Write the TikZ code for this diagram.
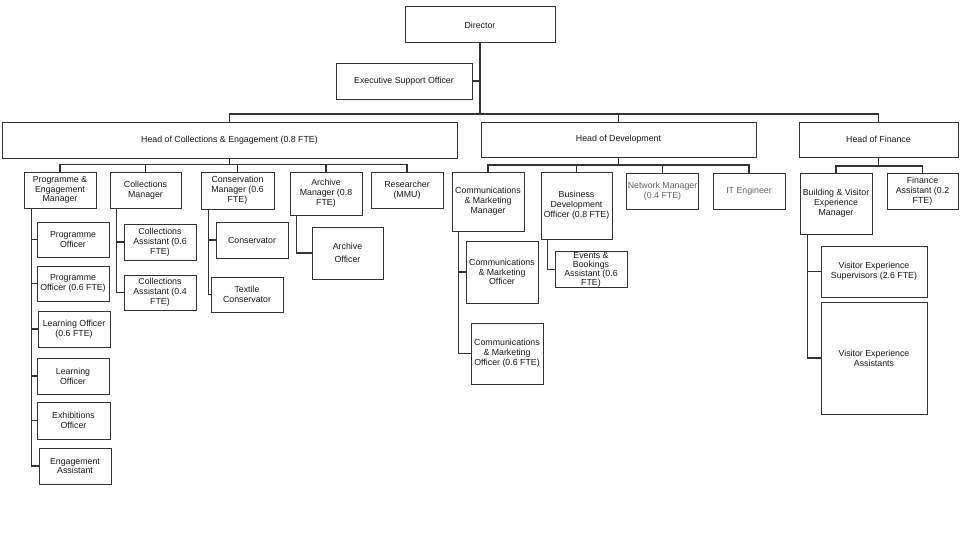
\documentclass[tikz,border=0pt]{standalone}
\usepackage{fontspec}
\setmainfont{Liberation Sans}
\usepackage{tikz}
\usetikzlibrary{calc}
\tikzset{>=latex}
\definecolor{linegray}{RGB}{50, 50, 55}
\definecolor{textgray}{RGB}{100, 100, 100}

\begin{document}
\begin{tikzpicture}[x=1pt, y=-1pt,
  box/.style = {draw=linegray, line width=1pt, fill=white, align=center, inner sep=1pt,
    minimum width=72, minimum height=36, text=black!90, font=\fontsize{8.8}{9.8}\selectfont},
  link/.style = {draw=linegray, line width=1.6pt}]
\useasboundingbox[fill=white] (0,0) rectangle (960,535);

\node[box, minimum width=150] (dir) at (480,25) {Director};
\node[box, minimum width=136] (eso) at (404,81) {Executive Support Officer};
\node[box, minimum width=455] (hoc) at (229.5,140) {Head of Collections \& Engagement (0.8 FTE)};
\node[box, minimum width=275, minimum height=35] (hod) at (618.5,139.5) {Head of Development};
\node[box, minimum width=159, minimum height=35] (hof) at (878.5,139.5) {Head of Finance};

\node[box] (pem) at (60,190) {Programme \&\\Engagement\\Manager};
\node[box, minimum width=71] (cm) at (145.5,190) {Collections\\Manager};
\node[box, minimum width=73, minimum height=37] (consm) at (237.5,190.5) {Conservation\\Manager (0.6\\FTE)};
\node[box, minimum height=43] (am) at (326,193.5) {Archive\\Manager (0.8\\FTE)};
\node[box] (res) at (407,190) {Researcher\\(MMU)};

\node[box, minimum height=35] (po) at (73,239.5) {Programme\\Officer};
\node[box, minimum height=35] (po6) at (73,283.5) {Programme\\Officer (0.6 FTE)};
\node[box] (lo6) at (74,329) {Learning Officer\\(0.6 FTE)};
\node[box] (lo) at (73,376) {Learning\\Officer};
\node[box, minimum width=73, minimum height=37] (eo) at (73.5,420.5) {Exhibitions\\Officer};
\node[box] (ea) at (75,466) {Engagement\\Assistant};

\node[box] (ca6) at (160,242) {Collections\\Assistant (0.6\\FTE)};
\node[box, minimum height=35] (ca4) at (160,292.5) {Collections\\Assistant (0.4\\FTE)};

\node[box] (cons) at (252,240) {Conservator};
\node[box, minimum height=35] (tcons) at (247,294.5) {Textile\\Conservator};

\node[box, minimum width=71, minimum height=52] (ao) at (347.5,253) {Archive\\[3pt]Officer};

\node[box, minimum height=59] (cmm) at (488,201.5) {Communications\\\& Marketing\\Manager};
\node[box, minimum width=71, minimum height=67] (bdo) at (576.5,205.5) {Business\\Development\\Officer (0.8 FTE)};
\node[box, minimum width=71, text=textgray] (nm) at (662.5,191) {Network Manager\\(0.4 FTE)};
\node[box, text=textgray] (ite) at (749,191) {IT Engineer};

\node[box, minimum height=62] (cmo) at (502,272) {Communications\\\& Marketing\\Officer};
\node[box, minimum height=61] (cmo6) at (507,353.5) {Communications\\\& Marketing\\Officer (0.6 FTE)};
\node[box, minimum height=35, font=\fontsize{8.8}{9}\selectfont] (eba) at (591,269.5) {Events \&\\Bookings\\Assistant (0.6\\FTE)};

\node[box, minimum height=61] (bvem) at (836,203.5) {Building \& Visitor\\Experience\\Manager};
\node[box, minimum width=71] (fa) at (922.5,191) {Finance\\Assistant (0.2\\FTE)};
\node[box, minimum width=106, minimum height=51] (ves) at (874,271.5) {Visitor Experience\\Supervisors (2.6 FTE)};
\node[box, minimum width=106, minimum height=112] (vea) at (874,358) {Visitor Experience\\Assistants};

\coordinate (b0) at (0,114);
\coordinate (b1) at (0,164.5);
\coordinate (b2) at (0,165);
\coordinate (b3) at (0,166);

\draw[link] (eso.east) -- (eso.east -| dir.south);
\foreach \n in {hoc,hod,hof}
  \draw[link] (dir.south) -- (dir.south |- b0) -| (\n.north);
\foreach \n in {pem,cm,consm,am,res}
  \draw[link] (hoc.south) -- (hoc.south |- b1) -| (\n.north);
\foreach \n in {cmm,bdo,nm,ite}
  \draw[link] (hod.south) -- (hod.south |- b2) -| (\n.north);
\foreach \n in {bvem,fa}
  \draw[link] (hof.south) -- (hof.south |- b3) -| (\n.north);

\foreach \n in {po,po6,lo6,lo,eo,ea}
  \draw[link] ([xshift=8]pem.south west) |- (\n.west);
\foreach \n in {ca6,ca4}
  \draw[link] ([xshift=7]cm.south west) |- (\n.west);
\foreach \n in {cons,tcons}
  \draw[link] ([xshift=8]consm.south west) |- (\n.west);
\draw[link] ([xshift=7]am.south west) |- (ao.west);
\foreach \n in {cmo,cmo6}
  \draw[link] ([xshift=7]cmm.south west) |- (\n.west);
\draw[link] ([xshift=7]bdo.south west) |- (eba.west);
\foreach \n in {ves,vea}
  \draw[link] ([xshift=8]bvem.south west) |- (\n.west);
\end{tikzpicture}
\end{document}
